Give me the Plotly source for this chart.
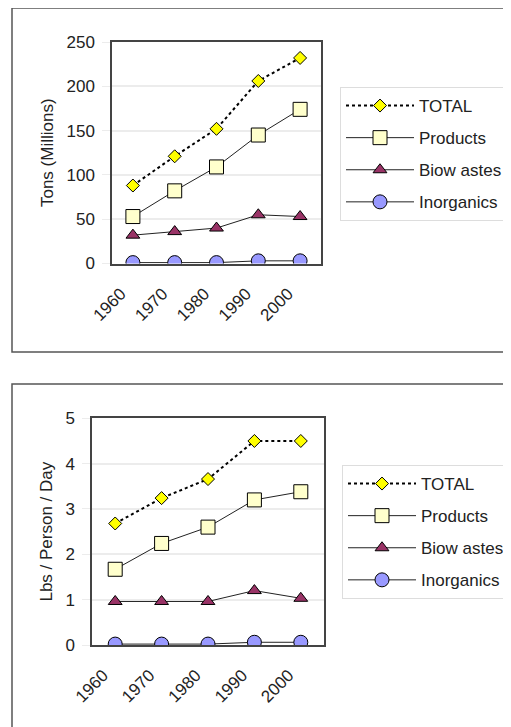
import plotly.graph_objects as go

years = ["1960", "1970", "1980", "1990", "2000"]
series_names = ["TOTAL", "Products", "Biow astes", "Inorganics"]

# top panel: tons (millions)
tons_total = [88, 121, 152, 206, 232]
tons_products = [53, 82, 109, 145, 174]
tons_bio = [32, 36, 40, 55, 53]
tons_inorg = [1, 1, 1, 3, 3]

# bottom panel: lbs / person / day
lbs_total = [2.68, 3.24, 3.66, 4.5, 4.5]
lbs_products = [1.67, 2.24, 2.6, 3.2, 3.38]
lbs_bio = [0.96, 0.96, 0.96, 1.2, 1.03]
lbs_inorg = [0.02, 0.02, 0.02, 0.06, 0.06]

W, H = 511, 727
OFF = 8  # page body margin
FONT = "Liberation Sans, Arial, sans-serif"
FS = 17

styles = [
    dict(marker=dict(symbol="diamond", size=10, color="#ffff00", line=dict(color="black", width=1)),
         line=dict(color="black", width=2, dash="dot")),
    dict(marker=dict(symbol="square", size=14, color="#ffffcc", line=dict(color="black", width=1)),
         line=dict(color="#222", width=1)),
    dict(marker=dict(symbol="triangle-up", size=12, color="#993366", line=dict(color="black", width=1)),
         line=dict(color="#222", width=1)),
    dict(marker=dict(symbol="circle", size=14, color="#9999ff", line=dict(color="black", width=1)),
         line=dict(color="#222", width=1)),
]

fig = go.Figure()

panels = [
    ([tons_total, tons_products, tons_bio, tons_inorg], "x", "y", "legend"),
    ([lbs_total, lbs_products, lbs_bio, lbs_inorg], "x2", "y2", "legend2"),
]
for vals, xa, ya, lg in panels:
    # draw bottom series first so TOTAL sits on top
    for i in reversed(range(4)):
        fig.add_trace(go.Scatter(
            x=years, y=vals[i], name=series_names[i], mode="lines+markers",
            xaxis=xa, yaxis=ya, legend=lg, legendgroup=lg + str(i),
            legendrank=i + 1,
            **styles[i]
        ))

def px(v):
    return (v - OFF) / W

def py(v):
    return 1 - (v - OFF) / H

axis_common = dict(
    showline=True, mirror=True, linecolor="#444", linewidth=1.5,
    tickfont=dict(family=FONT, size=FS, color="#222"),
)
xaxis_common = dict(type="category", range=[-0.5, 4.5], tickangle=-45, showgrid=False,
                    ticks="", ticklabelshift=-12, ticklabelstandoff=12, **axis_common)
yaxis_common = dict(showgrid=True, gridcolor="#ececec", gridwidth=2, zeroline=False,
                    ticks="outside", ticklen=8, tickcolor="#ececec", ticklabelstandoff=4,
                    **axis_common)
legend_common = dict(xanchor="left", yanchor="top",
                     bgcolor="white", bordercolor="#dddddd", borderwidth=1,
                     font=dict(family=FONT, size=FS, color="#222"),
                     tracegroupgap=7, itemwidth=68)

fig.update_layout(
    width=W, height=H,
    margin=dict(l=0, r=0, t=0, b=0, autoexpand=False),
    paper_bgcolor="white", plot_bgcolor="white",
    showlegend=True,
    font=dict(family=FONT, color="#222"),
    xaxis=dict(domain=[px(112), px(321)], anchor="y", **xaxis_common),
    yaxis=dict(domain=[py(263.5), py(42)], anchor="x", range=[0, 250], dtick=50,
               title=dict(text="Tons (Millions)", font=dict(family=FONT, size=FS, color="#222"),
                          standoff=9),
               **yaxis_common),
    xaxis2=dict(domain=[px(92), px(324)], anchor="y2", **xaxis_common),
    yaxis2=dict(domain=[py(645), py(418.3)], anchor="x2", range=[0, 5], dtick=1,
                title=dict(text="Lbs / Person / Day", font=dict(family=FONT, size=FS, color="#222"),
                           standoff=8),
                **yaxis_common),
    legend=dict(x=px(340), y=py(87), **legend_common),
    legend2=dict(x=px(342), y=py(465), **legend_common),
    shapes=[
        dict(type="rect", xref="paper", yref="paper",
             x0=px(12), x1=px(540), y0=py(352), y1=py(8),
             line=dict(color="#555", width=1.5)),
        dict(type="rect", xref="paper", yref="paper",
             x0=px(12), x1=px(540), y0=py(770), y1=py(384),
             line=dict(color="#555", width=1.5)),
    ],
)

fig.write_html("out.html")
